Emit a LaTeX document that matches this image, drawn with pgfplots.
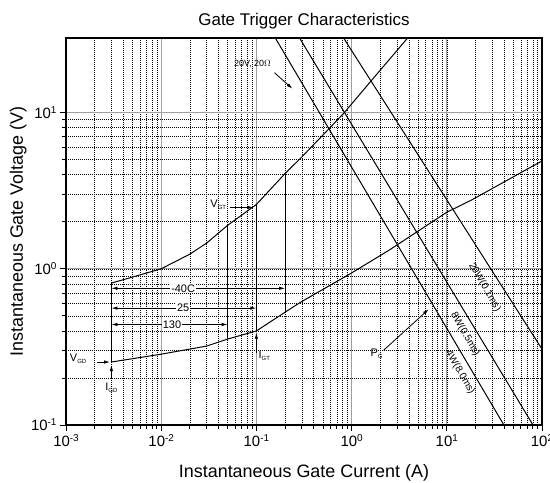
\documentclass[border=0pt]{standalone}
\usepackage{fontspec}
\setmainfont{Liberation Sans}
\usepackage{pgfplots}
\pgfplotsset{compat=1.18}
\usetikzlibrary{arrows.meta}

\newcommand{\sub}[1]{\raisebox{-2bp}{\fontsize{6}{6}\selectfont #1}}
\newcommand{\ep}[1]{10\raisebox{5bp}{\fontsize{10}{10}\selectfont #1}}

\begin{document}
\begin{tikzpicture}
\begin{axis}[
    xmode=log, ymode=log,
    scale only axis, width=476bp, height=387bp,
    xmin=1e-3, xmax=100, ymin=0.1, ymax=30,
    xtick={0.001,0.01,0.1,1,10,100},
    xticklabels={\ep{-3},\ep{-2},\ep{-1},\ep{0},\ep{1},\ep{2}},
    ytick={0.1,1,10},
    yticklabels={\ep{-1},\ep{0},\ep{1}},
    tick label style={font=\fontsize{15}{17}\selectfont},
    grid=both,
    major grid style={gray!75, line width=0.9bp},
    minor grid style={black, line width=0.5bp, dash pattern=on 0.8bp off 1.2bp},
    axis line style={line width=1.2bp},
    tick align=outside, tick pos=left,
    major tick length=6bp, minor tick length=4bp,
    every tick/.style={black, line width=0.8bp},
    title={Gate Trigger Characteristics},
    title style={font=\fontsize{17}{20}\selectfont, at={([yshift=6.5bp]axis description cs:0.5,1)}, anchor=base},
    xlabel={Instantaneous Gate Current (A)},
    ylabel={Instantaneous Gate Voltage (V)},
    label style={font=\fontsize{18}{21}\selectfont},
    xlabel style={at={([yshift=-52bp]axis description cs:0.5,0)}, anchor=base},
    ylabel style={at={([xshift=-43bp]axis description cs:0,0.5)}, anchor=base},
]
% gate characteristic limits
\addplot[black, line width=1bp] coordinates {
  (0.003,0.81) (0.005,0.885) (0.01,1.0) (0.02,1.24) (0.03,1.46) (0.05,1.9)
  (0.1,2.58) (0.2,4.07) (0.29,5.09) (0.5,7.18) (0.824,9.86) (1.5,15.2) (3.88,30)};
\addplot[black, line width=1bp] coordinates {
  (0.003,0.253) (0.01,0.284) (0.03,0.32) (0.05,0.355) (0.1,0.4) (0.2,0.527)
  (0.29,0.61) (1,0.94) (2.45,1.31) (10,2.3) (17.9,2.74) (100,4.9)};
% temperature verticals
\addplot[black, line width=1bp] coordinates {(0.003,0.253) (0.003,0.81)};
\addplot[black, line width=1bp] coordinates {(0.05,0.355) (0.05,1.9)};
\addplot[black, line width=1.2bp] coordinates {(0.1,0.4) (0.1,2.58)};
\addplot[black, line width=1bp] coordinates {(0.2,0.527) (0.2,4.07)};
% peak gate power lines
\addplot[black, line width=1bp] coordinates {(0.158,30) (39.8,0.1)};
\addplot[black, line width=1bp] coordinates {(0.284,30) (80.4,0.1)};
\addplot[black, line width=1bp] coordinates {(0.824,30) (100,0.306)};

% annotations
\draw[{Latex[length=6bp,width=3.5bp]}-{Latex[length=6bp,width=3.5bp]}, line width=0.8bp] (axis cs:0.003,0.75) -- (axis cs:0.2,0.75);
\draw[{Latex[length=6bp,width=3.5bp]}-{Latex[length=6bp,width=3.5bp]}, line width=0.8bp] (axis cs:0.003,0.56) -- (axis cs:0.1,0.56);
\draw[{Latex[length=6bp,width=3.5bp]}-{Latex[length=6bp,width=3.5bp]}, line width=0.8bp] (axis cs:0.003,0.44) -- (axis cs:0.05,0.44);
\node[fill=white, inner sep=1bp, font=\fontsize{11}{12}\selectfont] at (axis cs:0.017,0.75) {-40C};
\node[fill=white, inner sep=1bp, font=\fontsize{11}{12}\selectfont] at (axis cs:0.017,0.56) {25};
\node[fill=white, inner sep=1bp, font=\fontsize{11}{12}\selectfont] at (axis cs:0.013,0.44) {130};

\node[font=\fontsize{11}{12}\selectfont] at (axis cs:0.0398,2.55) {V\sub{GT}};
\draw[-{Latex[length=6bp,width=3.5bp]}, line width=0.8bp] (axis cs:0.053,2.47) -- (axis cs:0.093,2.47);
\node[font=\fontsize{11}{12}\selectfont] at (axis cs:0.00134,0.264) {V\sub{GD}};
\draw[-{Latex[length=6bp,width=3.5bp]}, line width=0.8bp] (axis cs:0.00212,0.253) -- (axis cs:0.0029,0.253);
\draw[-{Latex[length=6bp,width=3.5bp]}, line width=0.8bp] (axis cs:0.003,0.2) -- (axis cs:0.003,0.242);
\node[font=\fontsize{11}{12}\selectfont] at (axis cs:0.003,0.172) {I\sub{GD}};
\draw[-{Latex[length=6bp,width=3.5bp]}, line width=0.8bp] (axis cs:0.1,0.288) -- (axis cs:0.1,0.39);
\node[font=\fontsize{11}{12}\selectfont] at (axis cs:0.121,0.276) {I\sub{GT}};
\node[font=\fontsize{11}{12}\selectfont] at (axis cs:1.83,0.284) {P\sub{G}};
\draw[-{Latex[length=6bp,width=3.5bp]}, line width=0.8bp] (axis cs:2.17,0.301) -- (axis cs:6.46,0.551);
\node[font=\fontsize{9}{10}\selectfont] at (axis cs:0.0908,20.6) {20V, 20$\Omega$};
\draw[-{Latex[length=6bp,width=3.5bp]}, line width=0.8bp] (axis cs:0.1546,18.0) -- (axis cs:0.239,14.2);

\node[rotate=-60, font=\fontsize{10}{11}\selectfont] at (axis cs:25.0,0.762) {20W(0.1ms)};
\node[rotate=-60, font=\fontsize{10}{11}\selectfont] at (axis cs:15.6,0.381) {8W(0.5ms)};
\node[rotate=-60, font=\fontsize{10}{11}\selectfont] at (axis cs:13.8,0.218) {4W(8.0ms)};
\end{axis}
\pgfresetboundingbox
\path (-66bp,-58bp) rectangle (484bp,425bp);
\end{tikzpicture}
\end{document}
